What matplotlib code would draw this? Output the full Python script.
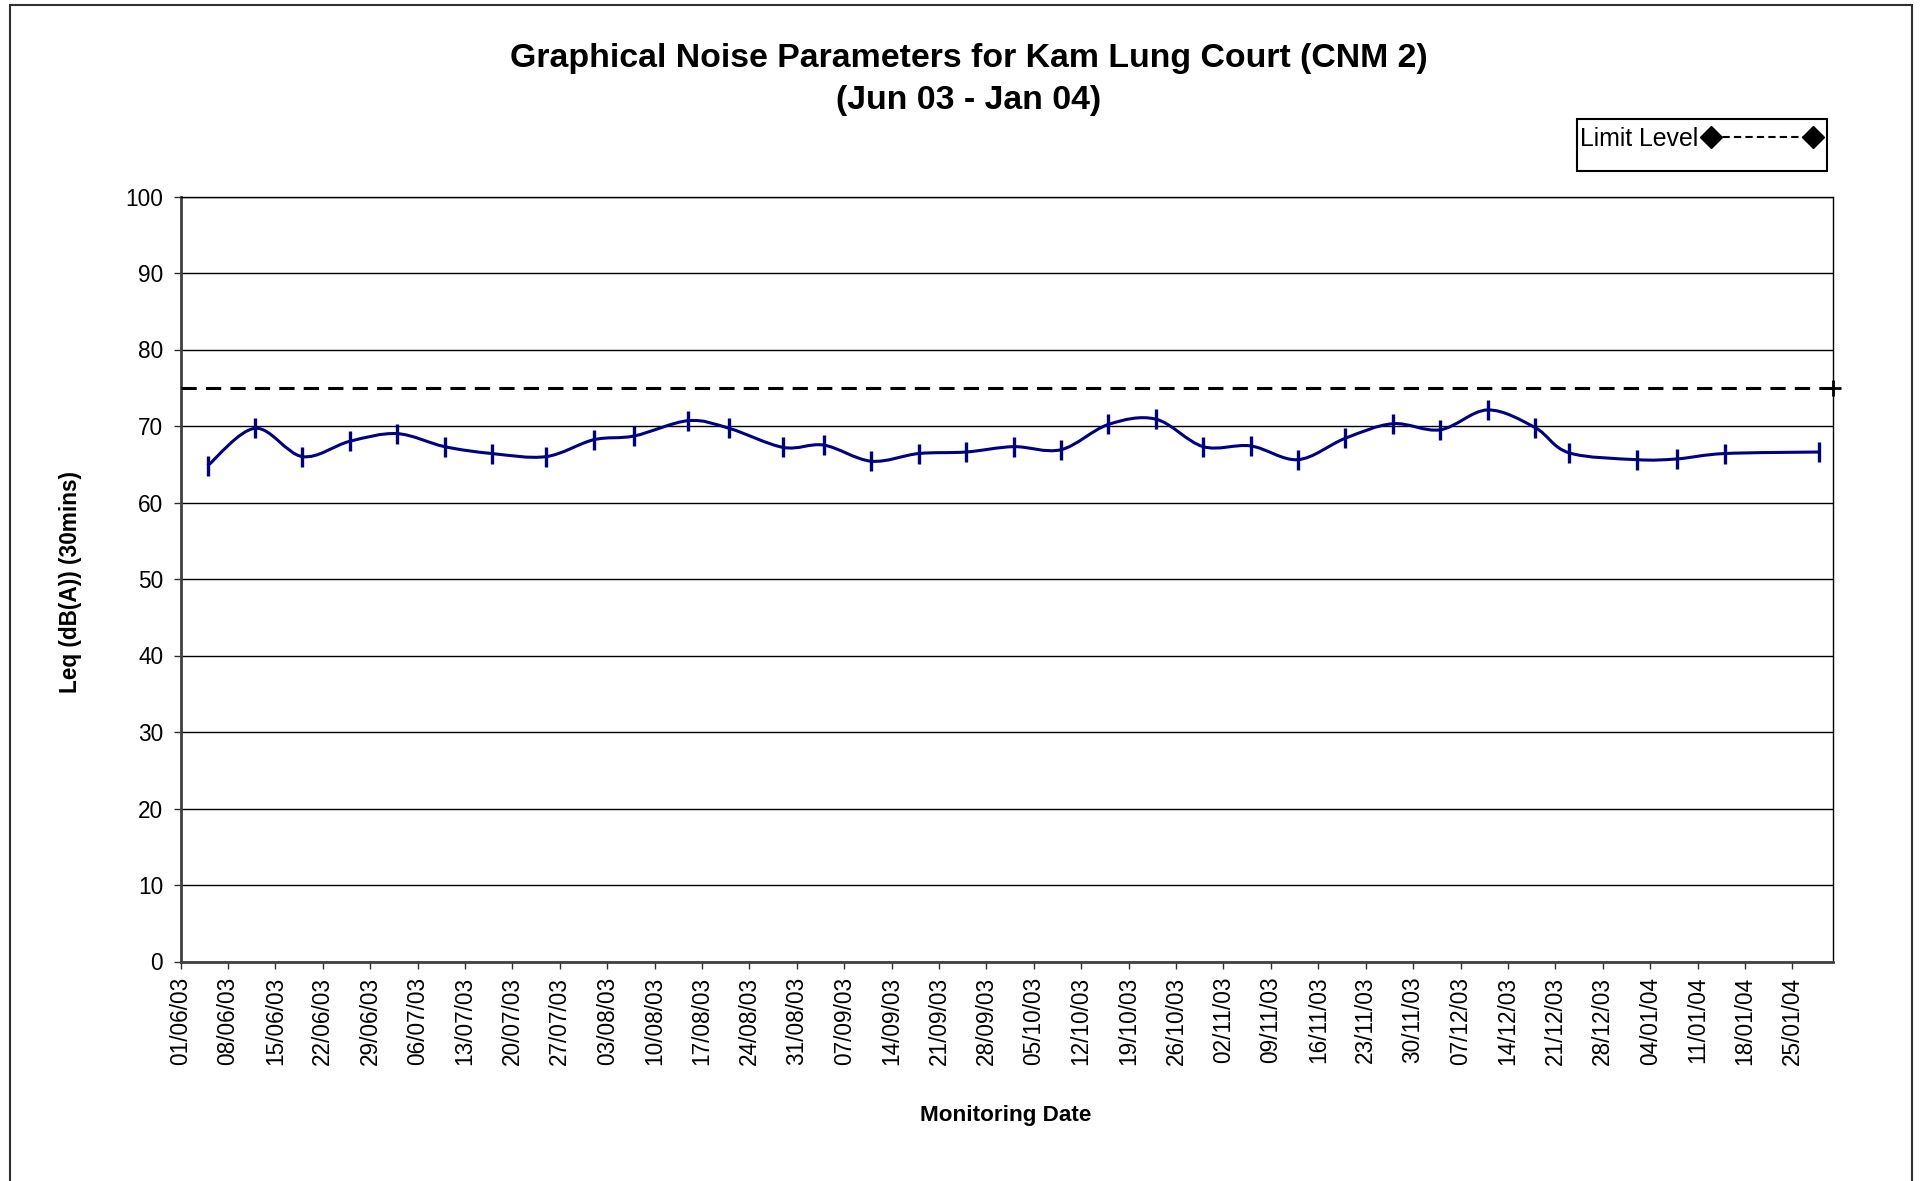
import numpy as np
import pandas as pd
import matplotlib
matplotlib.use("Agg")
import matplotlib.pyplot as plt
import matplotlib.dates as mdates
from matplotlib.path import Path
from matplotlib.patches import PathPatch, Rectangle
from matplotlib.lines import Line2D

plt.rcParams['font.family'] = ['Liberation Sans', 'DejaVu Sans']

# monitoring dates and Leq readings (dB(A), 30 mins)
dates = ["05/06/03", "12/06/03", "19/06/03", "26/06/03", "03/07/03", "10/07/03",
         "17/07/03", "25/07/03", "01/08/03", "07/08/03", "15/08/03", "21/08/03",
         "29/08/03", "04/09/03", "11/09/03", "18/09/03", "25/09/03", "02/10/03",
         "09/10/03", "16/10/03", "23/10/03", "30/10/03", "06/11/03", "13/11/03",
         "20/11/03", "27/11/03", "04/12/03", "11/12/03", "18/12/03", "23/12/03",
         "02/01/04", "08/01/04", "15/01/04", "29/01/04"]
leq = [64.8, 69.7, 66.0, 68.0, 69.0, 67.3, 66.4, 66.0, 68.2, 68.7, 70.7, 69.7,
       67.2, 67.5, 65.4, 66.4, 66.6, 67.3, 66.9, 70.2, 70.9, 67.3, 67.4, 65.6,
       68.4, 70.3, 69.5, 72.1, 69.8, 66.5, 65.6, 65.7, 66.4, 66.6]

limit_dates = ["01/06/03", "31/01/04"]
limit_level = [75, 75]

x = mdates.date2num(pd.to_datetime(dates, format="%d/%m/%y"))
xl = mdates.date2num(pd.to_datetime(limit_dates, format="%d/%m/%y"))
y = np.array(leq)

W, H = 1926, 1181
fig = plt.figure(figsize=(W / 100, H / 100), dpi=100)
ax = fig.add_axes([180.5 / W, 1 - 961.5 / H, (1833 - 180.5) / W, (961.5 - 196.5) / H])

# outer chart frame
fig.patches.append(Rectangle((10 / W, -0.05), (1912 - 10) / W, 1 - 5 / H + 0.05,
                             transform=fig.transFigure, fill=False,
                             edgecolor='#303030', linewidth=1.5))

# smoothed line like excel (catmull-rom as cubic bezier)
pts = np.column_stack([x, y])
verts = [pts[0]]
codes = [Path.MOVETO]
n = len(pts)
for i in range(n - 1):
    p0 = pts[i - 1] if i > 0 else pts[i]
    p1 = pts[i]
    p2 = pts[i + 1]
    p3 = pts[i + 2] if i + 2 < n else pts[i + 1]
    c1 = p1 + (p2 - p0) / 6
    c2 = p2 - (p3 - p1) / 6
    verts += [c1, c2, p2]
    codes += [Path.CURVE4] * 3
ax.add_patch(PathPatch(Path(verts, codes), facecolor='none', edgecolor='#000080',
                       linewidth=2.2, zorder=4))
ax.plot(x, y, linestyle='none', marker='|', markersize=14, markeredgewidth=2.4,
        color='#000080', zorder=5, clip_on=False)

# limit level
ax.plot(xl, limit_level, color='black', linestyle=(0, (5, 3)), linewidth=2.2,
        zorder=3, clip_on=False)
ax.plot(xl[1:], limit_level[1:], linestyle='none', marker='+', markersize=11,
        markeredgewidth=2, color='black', zorder=6, clip_on=False)

ax.set_xlim(xl[0], xl[1])
ax.set_ylim(0, 100)
ax.set_yticks(np.arange(0, 101, 10))
ax.set_xticks(mdates.drange(pd.Timestamp("2003-06-01"), pd.Timestamp("2004-01-26"),
                            pd.Timedelta(days=7)))
ax.xaxis.set_major_formatter(mdates.DateFormatter("%d/%m/%y"))
ax.tick_params(axis='x', rotation=90, labelsize=16.3, length=5, width=1, pad=6,
               color='#303030')
ax.tick_params(axis='y', labelsize=16.3, length=5, width=1, pad=7.5, color='#303030')

ax.grid(axis='y', color='black', linewidth=1)
ax.set_axisbelow(True)
for s in ['left', 'bottom']:
    ax.spines[s].set_color('#404040')
    ax.spines[s].set_linewidth(2)
for s in ['top', 'right']:
    ax.spines[s].set_color('black')
    ax.spines[s].set_linewidth(1)

fig.text(70 / W, 1 - 582 / H, "Leq (dB(A)) (30mins)", fontsize=16.3, fontweight='bold',
         rotation=90, ha='center', va='center')
fig.text(1006 / W, 1 - 1116 / H, "Monitoring Date", fontsize=16.2, fontweight='bold',
         ha='center', va='center')

fig.text(969 / W, 1 - 59 / H, "Graphical Noise Parameters for Kam Lung Court (CNM 2)",
         fontsize=24.4, fontweight='bold', ha='center', va='center')
fig.text(969 / W, 1 - 101 / H, "(Jun 03 - Jan 04)",
         fontsize=24.4, fontweight='bold', ha='center', va='center')

# legend
handle = Line2D([], [], color='black', linestyle=(0, (3.5, 2)), linewidth=1.5,
                marker='D', markersize=11, markerfacecolor='black')
fig.legend([handle], ["Limit Level"], loc='center left',
           bbox_to_anchor=(1580 / W, 1 - 139 / H), frameon=False, fontsize=17.9,
           markerfirst=False, handlelength=4.7, handletextpad=0.2, borderpad=0,
           borderaxespad=0, numpoints=2)
fig.patches.append(Rectangle((1577 / W, 1 - 171 / H), 250 / W, 52 / H,
                             transform=fig.transFigure, fill=False,
                             edgecolor='black', linewidth=1.5))

fig.savefig("out.png", dpi=100)
